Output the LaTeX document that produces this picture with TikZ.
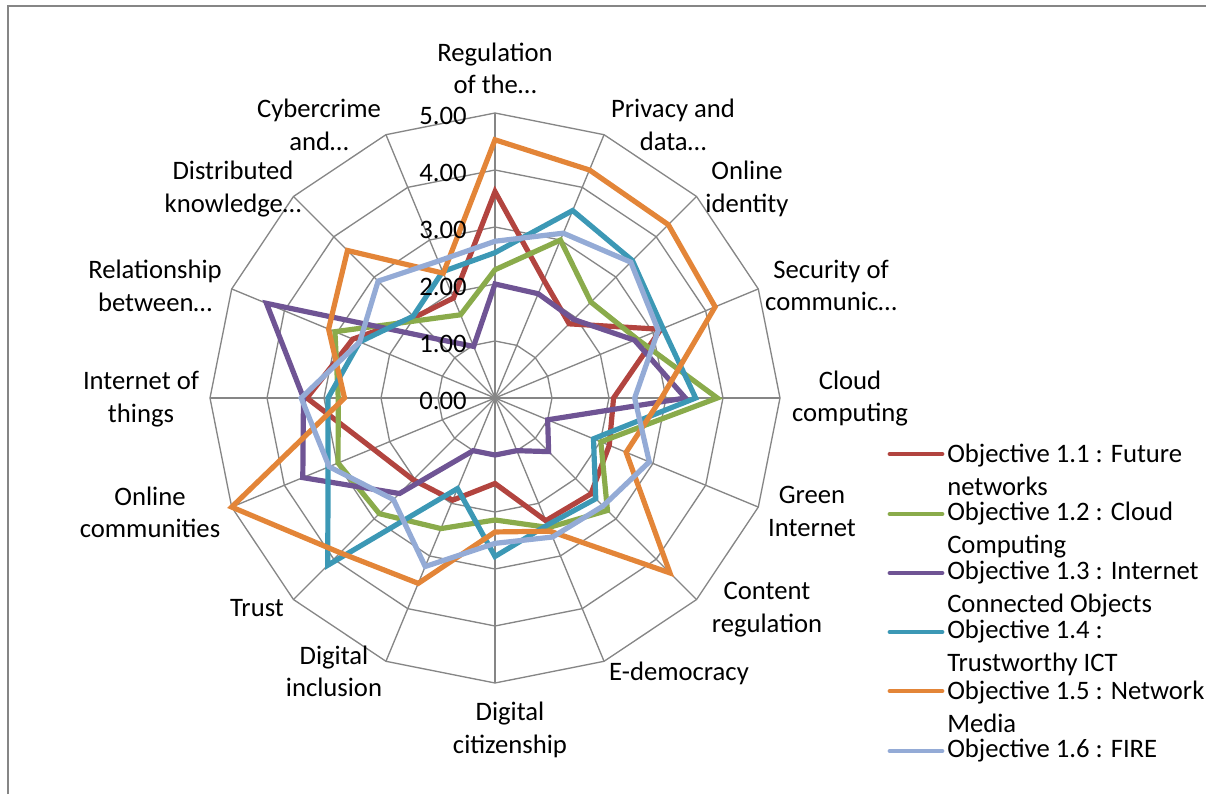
\documentclass[tikz,border=0pt]{standalone}
\usepackage{fontspec}
\setmainfont{Carlito}
\definecolor{sred}{RGB}{178,68,63}
\definecolor{sgreen}{RGB}{138,171,75}
\definecolor{spurple}{RGB}{111,84,148}
\definecolor{steal}{RGB}{60,152,181}
\definecolor{sorange}{RGB}{227,133,56}
\definecolor{slblue}{RGB}{148,171,214}
\definecolor{gridgray}{RGB}{134,134,134}
\newcommand\radarline[3]{\draw[series,#1] (90:{#2*57}) \foreach \v [count=\k from 1] in {#3} { -- ({90-22.5*\k}:{\v*57})} -- cycle;}
\begin{document}
\begin{tikzpicture}[x=0.75pt,y=0.75pt,
  gridline/.style={draw=gridgray,line width=1pt},
  frameline/.style={draw=gridgray,line width=1.6pt},
  series/.style={line width=3.9pt},
  legline/.style={line width=3.6pt,line cap=round},
  lbl/.style={font=\fontsize{20}{24.4}\selectfont,align=center,inner sep=0pt},
  leg/.style={font=\fontsize{20}{24.4}\selectfont,align=left,inner sep=0pt,anchor=west},
  tick/.style={font=\fontsize{20}{24.4}\selectfont,inner sep=0pt,anchor=east}]
\useasboundingbox (0,0) rectangle (1206,794);
\draw[frameline] (8,0) -- (8,788) -- (1206,788);
\begin{scope}[shift={(495,396)}]
  \foreach \k in {0,...,15} \draw[gridline] (0,0) -- ({90-22.5*\k}:285);
  \foreach \r in {1,...,5} \draw[gridline] (90:{57*\r}) \foreach \k in {1,...,15} { -- ({90-22.5*\k}:{57*\r})} -- cycle;
  \radarline{sred}{3.62}{2.24,1.84,3.15,2.08,2.17,2.38,2.33,1.5,1.94,2.03,2.32,3.3,2.7,2.0,1.9}
  \radarline{sgreen}{2.25}{3.0,2.38,2.7,3.9,2.01,2.79,2.46,2.14,2.48,2.87,2.98,2.75,3.04,1.92,1.58}
  \radarline{spurple}{2.0}{1.98,1.95,2.65,3.34,1.0,1.33,1.0,1.0,1.0,2.37,3.65,3.36,4.34,1.47,0.98}
  \radarline{steal}{2.55}{3.56,3.41,3.19,3.52,1.87,2.5,2.41,2.78,1.72,4.15,3.17,2.93,2.57,2.03,2.4}
  \radarline{sorange}{4.53}{4.33,4.3,4.18,2.92,2.49,4.34,2.53,2.35,3.52,3.84,5.0,2.64,3.16,3.66,2.37}
  \radarline{slblue}{2.75}{3.13,3.37,3.1,2.45,2.93,2.68,2.64,2.55,3.2,2.52,3.15,3.4,2.57,2.9,2.6}
  \node[tick] (t0) at (-28,-3) {0.00};
  \node[tick] (t1) at (-28,54) {1.00};
  \node[tick] (t2) at (-28,111) {2.00};
  \node[tick] (t3) at (-28,168) {3.00};
  \node[tick] (t4) at (-28,225) {4.00};
  \node[tick] (t5) at (-28,282) {5.00};
\end{scope}
% axis labels (image y converted: 794 - y)
\node[lbl] (a0) at (495,725.5) {Regulation\\of the…};
\node[lbl] (a1) at (673,669) {Privacy and\\data…};
\node[lbl] (a2) at (747,605) {Online\\identity};
\node[lbl] (a3) at (831,508.5) {Security of\\communic…};
\node[lbl] (a4) at (850,395.5) {Cloud\\computing};
\node[lbl] (a5) at (812,282.5) {Green\\Internet};
\node[lbl] (a6) at (767,184.5) {Content\\regulation};
\node[lbl] (a7) at (679,121) {E-democracy};
\node[lbl] (a8) at (510,64) {Digital\\citizenship};
\node[lbl] (a9) at (334,122.5) {Digital\\inclusion};
\node[lbl] (a10) at (257,186) {Trust};
\node[lbl] (a11) at (150,281.5) {Online\\communities};
\node[lbl] (a12) at (141,395) {Internet of\\things};
\node[lbl] (a13) at (155,508) {Relationship\\between…};
\node[lbl] (a14) at (233,605) {Distributed\\knowledge…};
\node[lbl] (a15) at (319,669) {Cybercrime\\and…};
% legend
\coordinate (l1a) at (890,340); \coordinate (l1b) at (942,340);
\coordinate (l2a) at (890,280); \coordinate (l2b) at (942,280);
\coordinate (l3a) at (890,221); \coordinate (l3b) at (942,221);
\coordinate (l4a) at (890,162); \coordinate (l4b) at (942,162);
\coordinate (l5a) at (890,103); \coordinate (l5b) at (942,103);
\coordinate (l6a) at (890,43);  \coordinate (l6b) at (942,43);
\draw[legline,sred] (l1a) -- (l1b);
\draw[legline,sgreen] (l2a) -- (l2b);
\draw[legline,spurple] (l3a) -- (l3b);
\draw[legline,steal] (l4a) -- (l4b);
\draw[legline,sorange] (l5a) -- (l5b);
\draw[legline,slblue] (l6a) -- (l6b);
\node[leg] (g1) at (947,324) {Objective 1.1 : Future\\networks};
\node[leg] (g2) at (947,264) {Objective 1.2 : Cloud\\Computing};
\node[leg] (g3) at (947,205) {Objective 1.3 : Internet\\Connected Objects};
\node[leg] (g4) at (947,146) {Objective 1.4 :\\Trustworthy ICT};
\node[leg] (g5) at (947,87) {Objective 1.5 : Network\\Media};
\node[leg] (g6) at (947,43) {Objective 1.6 : FIRE};
\end{tikzpicture}
\end{document}
